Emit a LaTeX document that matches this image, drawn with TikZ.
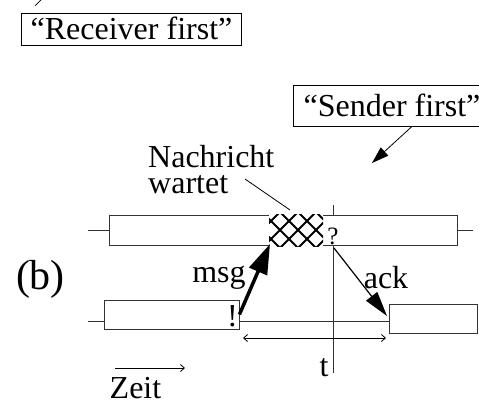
\documentclass[tikz,border=0pt]{standalone}
\usepackage{fontspec}
\setmainfont{Liberation Serif}
\usetikzlibrary{arrows.meta}

\begin{document}
\begin{tikzpicture}[x=1pt, y=-1pt]
\tikzset{
  big/.style={
    font=\fontsize{32}{26}\selectfont,
    inner sep=0pt
  },
  quote/.style={
    draw,
    big,
    text height=21pt,
    text depth=0pt,
    inner xsep=9pt,
    inner ysep=5.5pt,
    line width=0.8pt
  },
  bar/.style={
    draw=black!80,
    fill=white,
    line width=0.8pt,
    inner sep=0pt
  },
  line/.style={
    draw,
    line width=0.8pt
  },
  axis/.style={
    draw=black!80,
    line width=0.8pt
  },
  head/.style={
    -{Triangle[length=17pt, width=11pt]}
  },
  msg/.style={
    draw,
    line width=3.5pt,
    -{Triangle[length=30pt, width=19pt]}
  },
  ack/.style={
    draw,
    line width=1.2pt,
    -{Triangle[length=25pt, width=14pt]}
  },
  time/.style={
    draw,
    line width=0.8pt,
    -{Straight Barb[length=4pt, width=7pt]}
  },
  span/.style={
    draw,
    line width=0.8pt,
    {Straight Barb[length=4pt, width=7pt]}-{Straight Barb[length=4pt, width=7pt]}
  }
}
\useasboundingbox (0,0) rectangle (479,402);
\clip (0,0) rectangle (479,402);

% Labels on top
\node (recvfirst) [quote] at (131.5,29) {“Receiver first”};
\draw[line] ([shift={(14,-7)}]recvfirst.north west) -- +(8,-8);

\node (sendfirst) [quote, inner xsep=10pt, minimum height=41pt] at (392,105.5) {“Sender first”};
\coordinate (sfend) at (372,163);
\draw[line, head] ([xshift=20pt]sendfirst.south) -- (sfend);

\node (wartet) [big, align=left, anchor=base west] at (148,193) {Nachricht\\wartet};
\coordinate (wa) at (245,179);
\coordinate (wb) at (290,210);
\draw[line] (wa) -- (wb);

% Time line
\coordinate (ttop) at (333,205);
\coordinate (tbot) at (333,373);
\draw[axis] (ttop) -- (tbot);

% Receiver
\coordinate (r0) at (88,230);
\coordinate (r1) at (473,230);
\node (recvbar) [bar, minimum width=348pt, minimum height=30pt] at (283,230) {};
\draw[axis] (r0) -- (recvbar.west);
\draw[axis] (recvbar.east) -- (r1);

\begin{scope}
\clip (269,214) rectangle (323,246);
\fill[white] (269,214) rectangle (323,246);
\foreach \i in {-2,...,3} {
  \draw[line width=1.8pt] ({280+18*\i-20},210) -- ({280+18*\i+20},250);
  \draw[line width=1.8pt] ({280+18*\i+20},210) -- ({280+18*\i-20},250);
}
\end{scope}

\node (recv) [font=\fontsize{25}{25}\selectfont, inner sep=0pt, anchor=base] at (333,244) {?};

% Sender
\coordinate (s0) at (88,321);
\node (sendbar1) [bar, minimum width=135pt, minimum height=29pt] at (171.5,314.5) {};
\node (sendbar2) [bar, minimum width=88pt, minimum height=29pt] at (433,318.5) {};
\draw[axis] (s0) -- (s0 -| sendbar1.west);
\draw[axis] (sendbar1.east |- s0) -- (sendbar2.west |- s0);

\node (send) [big, anchor=base] at (232.5,326) {!};

% Messages
\coordinate (msgend) at (270,244);
\coordinate (ackstart) at (334,248);
\coordinate (ackend) at (387,316);
\draw[msg] (sendbar1.east) -- (msgend);
\draw[ack] (ackstart) -- (ackend);
\node (msglabel) [big, anchor=base] at (219,282) {msg};
\node (acklabel) [big, anchor=base] at (386,288) {ack};

% Waiting time
\coordinate (tl) at (243,338);
\coordinate (tr) at (386,338);
\draw[span] (tl) -- (tr);
\node (tlabel) [big, anchor=base] at (324,376) {t};

% Legend
\node (b) [font=\fontsize{42}{42}\selectfont, inner sep=0pt, anchor=base] at (40.5,289) {(b)};
\coordinate (z0) at (115,368);
\coordinate (z1) at (185,368);
\draw[time] (z0) -- (z1);
\node (zeit) [big, anchor=base] at (135.5,398) {Zeit};

\end{tikzpicture}
\end{document}
